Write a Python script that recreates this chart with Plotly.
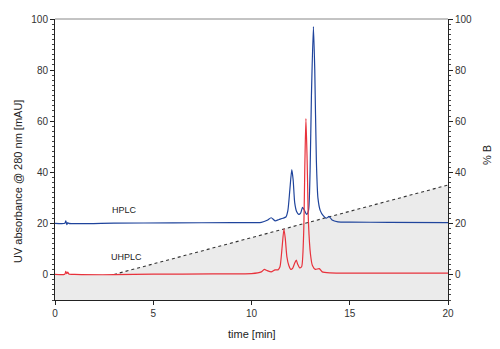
import plotly.graph_objects as go

# HPLC trace (time [min], absorbance [mAU])
hplc_t = [0, 0.5, 0.55, 0.6, 0.65, 0.7, 3, 6, 9, 10.5, 10.8, 11.0, 11.2, 11.4, 11.6,
          11.75, 11.85, 11.95, 12.05, 12.12, 12.2, 12.3, 12.4, 12.5, 12.6, 12.7, 12.8,
          12.9, 12.98, 13.05, 13.15, 13.22, 13.3, 13.38, 13.5, 13.65, 13.8, 13.95, 14.1,
          14.4, 15, 17, 20]
hplc_y = [20.0, 20.0, 21.0, 19.5, 20.3, 20.0, 20.1, 20.2, 20.3, 20.4, 21.2, 22.2, 21.0,
          21.5, 22.0, 22.5, 25, 33, 41, 37, 28, 24.5, 23.5, 24, 26.3, 25, 23.5, 25, 40,
          70, 97, 80, 45, 30, 25, 23, 22, 22.7, 21.3, 20.6, 20.5, 20.4, 20.3]

# UHPLC trace
uhplc_t = [0, 0.5, 0.55, 0.6, 0.65, 0.7, 1, 3, 5, 8, 10, 10.5, 10.65, 10.8, 11.0, 11.2,
           11.35, 11.45, 11.55, 11.65, 11.72, 11.8, 11.9, 12.0, 12.1, 12.2, 12.28, 12.35,
           12.45, 12.55, 12.65, 12.72, 12.77, 12.83, 12.9, 13.0, 13.1, 13.25, 13.45, 13.6,
           14, 16, 20]
uhplc_y = [0, 0.1, 1.2, 0.3, 0.9, 0.2, 0, -0.1, 0.1, 0.2, 0.3, 1.0, 2.0, 1.5, 1.0, 1.8,
           1.8, 3, 10, 17.8, 14, 7, 3.5, 2.0, 2.5, 4.5, 5.6, 4, 2.6, 3, 15, 45, 61, 45,
           20, 8, 3.5, 2.0, 2.3, 1.0, 0.6, 0.5, 0.5]

# Gradient (% B)
grad_t = [0, 3, 20]
grad_b = [0, 0, 35]

x_ticks = [0, 5, 10, 15, 20]
y_ticks = [0, 20, 40, 60, 80, 100]
y_min, y_max = -10, 100

fig = go.Figure()

# shaded gradient area (down to axis bottom); left and right axes share the same scale
fig.add_trace(go.Scatter(
    x=grad_t + grad_t[::-1], y=grad_b + [y_min] * len(grad_t),
    fill="toself", fillcolor="#ebebeb", line=dict(width=0), mode="lines",
    yaxis="y", hoverinfo="skip", showlegend=False))
# dotted gradient line
fig.add_trace(go.Scatter(
    x=grad_t[1:], y=grad_b[1:], mode="lines", yaxis="y",
    line=dict(color="#333333", width=1.1, dash="dot"), showlegend=False))

fig.add_trace(go.Scatter(x=hplc_t, y=hplc_y, mode="lines", name="HPLC",
                         line=dict(color="#1f449c", width=1.2, shape="spline", smoothing=0.6),
                         showlegend=False))
fig.add_trace(go.Scatter(x=uhplc_t, y=uhplc_y, mode="lines", name="UHPLC",
                         line=dict(color="#e8323c", width=1.2, shape="spline", smoothing=0.6),
                         showlegend=False))
# invisible trace to activate the % B axis
fig.add_trace(go.Scatter(x=grad_t, y=grad_b, mode="lines", yaxis="y2", opacity=0,
                         hoverinfo="skip", showlegend=False))

font = "Liberation Sans, Arial, sans-serif"
tickfont = dict(family=font, size=10, color="#333333")
titlefont = dict(family=font, size=11, color="#222222")

axis_common = dict(showgrid=False, zeroline=False, showline=True, linecolor="#222222",
                   linewidth=1, ticks="outside", ticklen=4, tickcolor="#222222",
                   tickfont=tickfont)

fig.update_layout(
    width=500, height=349,
    margin=dict(l=55, r=52, t=19, b=49),
    plot_bgcolor="white", paper_bgcolor="white",
    font=dict(family=font, color="#333333"),
    xaxis=dict(range=[0, 20], tickvals=x_ticks, **axis_common),
    yaxis=dict(range=[y_min, y_max], tickvals=y_ticks, **axis_common,
               minor=dict(dtick=2, ticks="outside", ticklen=2, tickcolor="#444444")),
    yaxis2=dict(range=[y_min, y_max], tickvals=y_ticks, overlaying="y", side="right", **axis_common,
                minor=dict(dtick=2, ticks="outside", ticklen=2, tickcolor="#444444")),
    annotations=[
        dict(x=3.56, y=25.4, xref="x", yref="y", text="HPLC", showarrow=False,
             font=dict(family=font, size=9, color="#222222")),
        dict(x=3.66, y=6.9, xref="x", yref="y", text="UHPLC", showarrow=False,
             font=dict(family=font, size=9, color="#222222")),
        dict(x=18, y=182, xref="paper", yref="paper", text="UV absorbance @ 280 nm [mAU]",
             textangle=-90, showarrow=False, font=titlefont,
             xanchor="center", yanchor="middle"),
        dict(x=252, y=334, xref="paper", yref="paper", text="time [min]",
             showarrow=False, font=titlefont, xanchor="center", yanchor="middle"),
        dict(x=487, y=155, xref="paper", yref="paper", text="% B",
             textangle=-90, showarrow=False, font=titlefont,
             xanchor="center", yanchor="middle"),
    ],
    shapes=[dict(type="line", xref="paper", yref="paper", x0=0, x1=1, y0=1, y1=1,
                 line=dict(color="#888888", width=1))],
)

# convert pixel positions of the title annotations to paper coordinates
pl, pr, pt, pb = 55, 500 - 52, 19, 349 - 49
for a in fig.layout.annotations:
    if a.xref == "paper":
        px, py = a.x, a.y
        a.x = (px - pl) / (pr - pl)
        a.y = (pb - py) / (pb - pt)

fig.write_html("out.html")
